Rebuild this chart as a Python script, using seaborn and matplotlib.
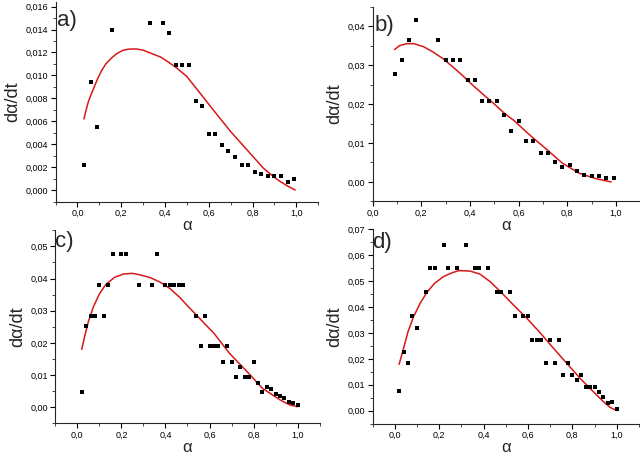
import matplotlib
matplotlib.use("Agg")
import matplotlib.pyplot as plt
import seaborn as sns
from matplotlib.ticker import FuncFormatter, MultipleLocator

# ---------------- data ----------------
a_x = [0.03, 0.06, 0.09, 0.16, 0.33, 0.39, 0.42, 0.45, 0.48, 0.51, 0.54, 0.57, 0.60,
       0.63, 0.66, 0.69, 0.72, 0.75, 0.78, 0.81, 0.84, 0.87, 0.90, 0.93, 0.96, 0.99]
a_y = [0.0022, 0.0094, 0.0055, 0.0140, 0.0146, 0.0146, 0.0137, 0.0109, 0.0109, 0.0109,
       0.0078, 0.0073, 0.0049, 0.0049, 0.0039, 0.0034, 0.0029, 0.0022, 0.0022, 0.0016,
       0.0014, 0.0012, 0.0012, 0.0012, 0.0007, 0.0010]
a_fit_x = [0.03, 0.04, 0.05, 0.06, 0.075, 0.09, 0.11, 0.13, 0.155, 0.18, 0.21, 0.24,
           0.27, 0.30, 0.34, 0.38, 0.42, 0.45, 0.50, 0.55, 0.62, 0.70, 0.775, 0.85,
           0.90, 0.93, 0.965, 0.995]
a_fit_y = [0.0062, 0.0070, 0.0077, 0.0082, 0.0089, 0.0096, 0.0104, 0.0110, 0.0115,
           0.0119, 0.0122, 0.0123, 0.0123, 0.0122, 0.0119, 0.0116, 0.0111, 0.0107,
           0.0099, 0.0087, 0.0070, 0.0051, 0.0035, 0.0019, 0.0011, 0.0007, 0.0003,
           0.0000]

b_x = [0.09, 0.12, 0.15, 0.18, 0.27, 0.30, 0.33, 0.36, 0.39, 0.42, 0.45, 0.48, 0.51,
       0.54, 0.57, 0.60, 0.63, 0.66, 0.69, 0.72, 0.75, 0.78, 0.81, 0.84, 0.87, 0.90,
       0.93, 0.96, 0.99]
b_y = [0.0278, 0.0313, 0.0365, 0.0417, 0.0365, 0.0313, 0.0313, 0.0313, 0.0261, 0.0261,
       0.0209, 0.0209, 0.0209, 0.0173, 0.0130, 0.0157, 0.0104, 0.0104, 0.0074, 0.0074,
       0.0052, 0.0038, 0.0044, 0.0029, 0.0019, 0.0015, 0.0015, 0.0009, 0.0010]
b_fit_x = [0.09, 0.11, 0.14, 0.17, 0.21, 0.25, 0.29, 0.33, 0.37, 0.41, 0.45, 0.50,
           0.54, 0.58, 0.65, 0.72, 0.78, 0.85, 0.92, 0.98]
b_fit_y = [0.0340, 0.0350, 0.0355, 0.0355, 0.0347, 0.0333, 0.0316, 0.0295, 0.0273,
           0.0249, 0.0227, 0.0200, 0.0177, 0.0158, 0.0118, 0.0081, 0.0048, 0.0022,
           0.0008, 0.0000]

c_x = [0.02, 0.04, 0.06, 0.08, 0.10, 0.12, 0.14, 0.16, 0.20, 0.22, 0.28, 0.34, 0.36,
       0.40, 0.42, 0.44, 0.46, 0.48, 0.54, 0.56, 0.58, 0.60, 0.62, 0.64, 0.66, 0.68,
       0.70, 0.72, 0.74, 0.76, 0.78, 0.80, 0.82, 0.84, 0.86, 0.88, 0.90, 0.92, 0.94,
       0.96, 0.98, 1.00]
c_y = [0.0047, 0.0254, 0.0285, 0.0285, 0.0380, 0.0285, 0.0380, 0.0476, 0.0476, 0.0476,
       0.0380, 0.0380, 0.0476, 0.0380, 0.0380, 0.0380, 0.0380, 0.0380, 0.0285, 0.0189,
       0.0285, 0.0189, 0.0189, 0.0189, 0.0142, 0.0189, 0.0142, 0.0094, 0.0125, 0.0094,
       0.0094, 0.0142, 0.0076, 0.0047, 0.0062, 0.0057, 0.0042, 0.0036, 0.0029, 0.0016,
       0.0013, 0.0006]
c_fit_x = [0.02, 0.035, 0.05, 0.073, 0.10, 0.13, 0.17, 0.21, 0.25, 0.28, 0.33, 0.375,
           0.42, 0.465, 0.51, 0.54, 0.58, 0.62, 0.69, 0.77, 0.84, 0.92, 0.965, 1.0]
c_fit_y = [0.0180, 0.0225, 0.0266, 0.0312, 0.0352, 0.0382, 0.0404, 0.0414, 0.0416,
           0.0412, 0.0403, 0.0389, 0.0369, 0.0341, 0.0308, 0.0287, 0.0258, 0.0230,
           0.0168, 0.0111, 0.0059, 0.0023, 0.0007, 0.0002]

d_x = [0.02, 0.04, 0.06, 0.08, 0.10, 0.14, 0.16, 0.18, 0.22, 0.24, 0.28, 0.32, 0.36,
       0.38, 0.42, 0.46, 0.48, 0.52, 0.54, 0.58, 0.60, 0.62, 0.64, 0.66, 0.68, 0.70,
       0.72, 0.74, 0.76, 0.78, 0.80, 0.82, 0.84, 0.86, 0.88, 0.90, 0.92, 0.94, 0.96,
       0.98, 1.00]
d_y = [0.0077, 0.0228, 0.0183, 0.0366, 0.0321, 0.0457, 0.0550, 0.0550, 0.0641, 0.0550,
       0.0550, 0.0641, 0.0550, 0.0550, 0.0550, 0.0457, 0.0457, 0.0457, 0.0366, 0.0366,
       0.0366, 0.0274, 0.0274, 0.0274, 0.0183, 0.0274, 0.0183, 0.0274, 0.0136, 0.0183,
       0.0136, 0.0120, 0.0136, 0.0090, 0.0090, 0.0090, 0.0072, 0.0052, 0.0028, 0.0032,
       0.0006]
d_fit_x = [0.02, 0.04, 0.06, 0.085, 0.115, 0.145, 0.18, 0.22, 0.26, 0.29, 0.34, 0.385,
           0.43, 0.475, 0.535, 0.595, 0.655, 0.715, 0.775, 0.835, 0.895, 0.94, 0.97, 1.0]
d_fit_y = [0.0179, 0.0241, 0.0305, 0.0363, 0.0415, 0.0457, 0.0492, 0.0518, 0.0533,
           0.0541, 0.0539, 0.0527, 0.0498, 0.0461, 0.0408, 0.0357, 0.0301, 0.0241,
           0.0183, 0.0125, 0.0073, 0.0035, 0.0013, 0.0000]

panel_labels = ["a)", "b)", "c)", "d)"]

# ---------------- style ----------------
sns.set_style("ticks")
plt.rcParams["font.family"] = ["Liberation Sans", "DejaVu Sans"]
plt.rcParams["axes.linewidth"] = 0.8

W, H = 640, 457
fig = plt.figure(figsize=(W / 100, H / 100), dpi=100)


def px_axes(l, t, r, b):
    return fig.add_axes([l / W, 1 - b / H, (r - l) / W, (b - t) / H])


boxes = [(55.5, 2, 318.2, 201.5), (372.7, 6.7, 640.3, 201.4),
         (55.3, 230.2, 319.7, 423.4), (372.5, 229.4, 638.9, 423.6)]
xlims = [(-0.1, 1.1), (0.0, 1.1), (-0.1, 1.1), (-0.1, 1.1)]
ylims = [(-0.001, 0.0164), (-0.005, 0.045), (-0.005, 0.055), (-0.005, 0.07)]
ymaj = [0.002, 0.01, 0.01, 0.01]
ydec = [3, 2, 2, 2]
lab_off = [(2, -8), (2, -8), (0, -1), (0, -3)]

scat = [(a_x, a_y), (b_x, b_y), (c_x, c_y), (d_x, d_y)]
fits = [(a_fit_x, a_fit_y), (b_fit_x, b_fit_y), (c_fit_x, c_fit_y), (d_fit_x, d_fit_y)]

for i in range(4):
    ax = px_axes(*boxes[i])
    ax.set_facecolor("none")
    sx, sy = scat[i]
    fx, fy = fits[i]
    sns.lineplot(x=fx, y=fy, ax=ax, color="#d81818", lw=1.1, sort=False, zorder=2)
    sns.scatterplot(x=sx, y=sy, ax=ax, marker="s", s=10, color="black",
                    edgecolor="black", linewidth=0, zorder=3)
    ax.set_xlim(*xlims[i])
    ax.set_ylim(*ylims[i])
    ax.xaxis.set_major_locator(MultipleLocator(0.2))
    ax.xaxis.set_minor_locator(MultipleLocator(0.1))
    ax.yaxis.set_major_locator(MultipleLocator(ymaj[i]))
    ax.yaxis.set_minor_locator(MultipleLocator(ymaj[i] / 2))
    ax.xaxis.set_major_formatter(FuncFormatter(lambda v, p: f"{v:.1f}".replace(".", ",").replace("-0,0", "0,0")))
    dec = ydec[i]
    ax.yaxis.set_major_formatter(FuncFormatter(lambda v, p, dec=dec: f"{v:.{dec}f}".replace(".", ",").replace("-0,0", "0,0")))
    ax.tick_params(which="major", length=3.5, width=0.8, labelsize=6.5, pad=2, colors="black")
    ax.tick_params(which="minor", length=2, width=0.6)
    sns.despine(ax=ax)
    ax.set_xlabel("α", fontsize=12, labelpad=0)
    ax.set_ylabel("dα/dt", fontsize=13, labelpad=3)
    ax.annotate(panel_labels[i], xy=(0, 1), xycoords="axes fraction",
                xytext=lab_off[i], textcoords="offset pixels",
                ha="left", va="top", fontsize=16)

fig.savefig("out.png", dpi=100)
